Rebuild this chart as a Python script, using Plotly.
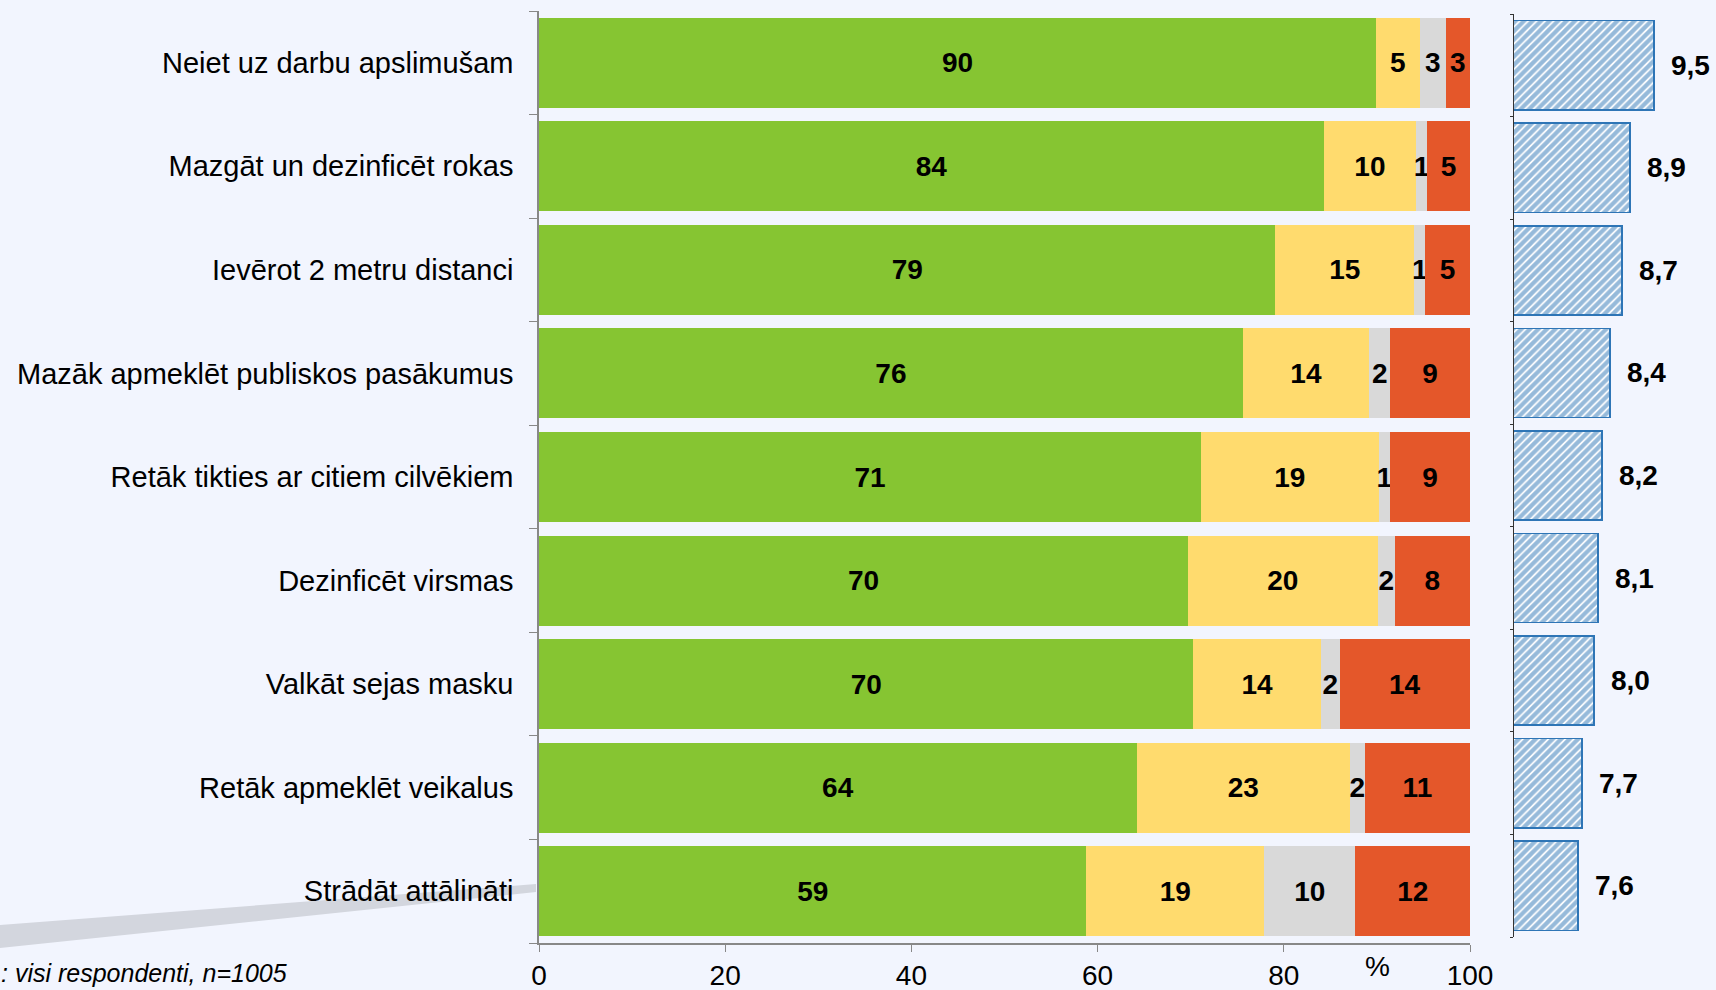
import plotly.graph_objects as go

categories = [
    "Neiet uz darbu apslimušam",
    "Mazgāt un dezinficēt rokas",
    "Ievērot 2 metru distanci",
    "Mazāk apmeklēt publiskos pasākumus",
    "Retāk tikties ar citiem cilvēkiem",
    "Dezinficēt virsmas",
    "Valkāt sejas masku",
    "Retāk apmeklēt veikalus",
    "Strādāt attālināti",
]
s_green = [89.9, 84.3, 79.1, 75.6, 71.1, 69.7, 70.3, 64.2, 58.8]
s_yellow = [4.7, 9.9, 14.9, 13.6, 19.1, 20.4, 13.7, 22.9, 19.1]
s_gray = [2.8, 1.2, 1.2, 2.2, 1.2, 1.8, 2.0, 1.6, 9.8]
s_red = [2.6, 4.6, 4.8, 8.6, 8.6, 8.1, 14.0, 11.3, 12.3]
scores = [9.5, 8.9, 8.7, 8.4, 8.2, 8.1, 8.0, 7.7, 7.6]
x_ticks = [0, 20, 40, 60, 80, 100]

W, H = 1716, 990
ML, MR, MT, MB = 0, 0, 11, 47
PH = H - MT - MB

def px_x(p):
    return p / W

def px_y(p):
    return (H - MB - p) / PH

FONT = "Liberation Sans, Arial, sans-serif"
BG = "#F2F5FE"

fig = go.Figure()
series = [
    (s_green, "#86C532"),
    (s_yellow, "#FFDB6E"),
    (s_gray, "#D9D9D9"),
    (s_red, "#E4572A"),
]
for vals, col in series:
    fig.add_trace(go.Bar(
        y=categories, x=vals, orientation="h",
        marker=dict(color=col, line=dict(width=0)),
        text=[f"{round(v):d}" for v in vals],
        texttemplate="<b>%{text}</b>",
        textposition="inside", insidetextanchor="middle",
        constraintext="none", textangle=0,
        textfont=dict(family=FONT, size=28, color="#000000"),
        xaxis="x", yaxis="y", showlegend=False, hoverinfo="skip",
    ))

fig.add_trace(go.Bar(
    y=categories, x=scores, orientation="h", base=0,
    marker=dict(color="white",
                line=dict(color="#2E75B6", width=1.5),
                pattern=dict(shape="/", fgcolor="#2E75B6", bgcolor="white",
                             size=6, solidity=0.7)),
    xaxis="x2", yaxis="y2", showlegend=False, hoverinfo="skip",
))

annotations = []
for c, v in zip(categories, scores):
    annotations.append(dict(
        x=v, y=c, xref="x2", yref="y2", xanchor="left", yanchor="middle",
        xshift=15, showarrow=False,
        text="<b>" + f"{v:.1f}".replace(".", ",") + "</b>",
        font=dict(family=FONT, size=28, color="#000000"),
    ))
annotations.append(dict(
    x=px_x(1377), y=px_y(966), xref="paper", yref="paper",
    xanchor="center", yanchor="middle", showarrow=False, text="%",
    font=dict(family=FONT, size=28, color="#000000"),
))
annotations.append(dict(
    x=0, y=px_y(973), xref="paper", yref="paper",
    xanchor="left", yanchor="middle", showarrow=False, xshift=-1,
    text="<i>: visi respondenti, n=1005</i>",
    font=dict(family=FONT, size=25, color="#000000"),
))

swoosh = (f"M {px_x(0)} {px_y(925)} L {px_x(536)} {px_y(884)} "
          f"L {px_x(536)} {px_y(892)} L {px_x(0)} {px_y(948)} Z")

fig.update_layout(
    width=W, height=H,
    margin=dict(l=ML, r=MR, t=MT, b=MB, pad=0, autoexpand=False),
    paper_bgcolor=BG, plot_bgcolor=BG,
    barmode="stack", bargap=0.13,
    separators=",.",
    font=dict(family=FONT, size=28, color="#000000"),
    xaxis=dict(domain=[px_x(539), px_x(1470)], range=[0, 100],
               tickvals=x_ticks, ticks="outside", ticklen=7,
               tickcolor="#888888", showline=True, linecolor="#888888",
               linewidth=1.5, showgrid=False, zeroline=False,
               tickfont=dict(family=FONT, size=28, color="#000000"),
               anchor="y", automargin=False),
    yaxis=dict(domain=[0, 1], categoryorder="array",
               categoryarray=categories[::-1], ticks="outside",
               tickson="boundaries", ticklen=8, tickcolor="#888888",
               showline=True, linecolor="#888888", linewidth=1.5,
               showgrid=False, ticklabelstandoff=18,
               tickfont=dict(family=FONT, size=29, color="#000000"),
               anchor="x", automargin=False),
    xaxis2=dict(domain=[px_x(1514), px_x(1714)], range=[6, 11],
                showticklabels=False, ticks="", showline=False,
                showgrid=False, zeroline=False, anchor="y2",
                automargin=False),
    yaxis2=dict(domain=[px_y(937), px_y(14)], categoryorder="array",
                categoryarray=categories[::-1], ticks="outside",
                tickson="boundaries", ticklen=3, tickcolor="#333333",
                showline=True, linecolor="#333333", linewidth=1,
                showgrid=False, showticklabels=False, anchor="x2",
                automargin=False),
    annotations=annotations,
    shapes=[dict(type="path", path=swoosh, xref="paper", yref="paper",
                 fillcolor="#D3D6DE", line=dict(width=0), layer="below")],
)

fig.write_html(
    "out.html",
    config={"displayModeBar": False, "responsive": False},
    post_script="document.body.style.margin='0';document.body.style.overflow='hidden';",
)
